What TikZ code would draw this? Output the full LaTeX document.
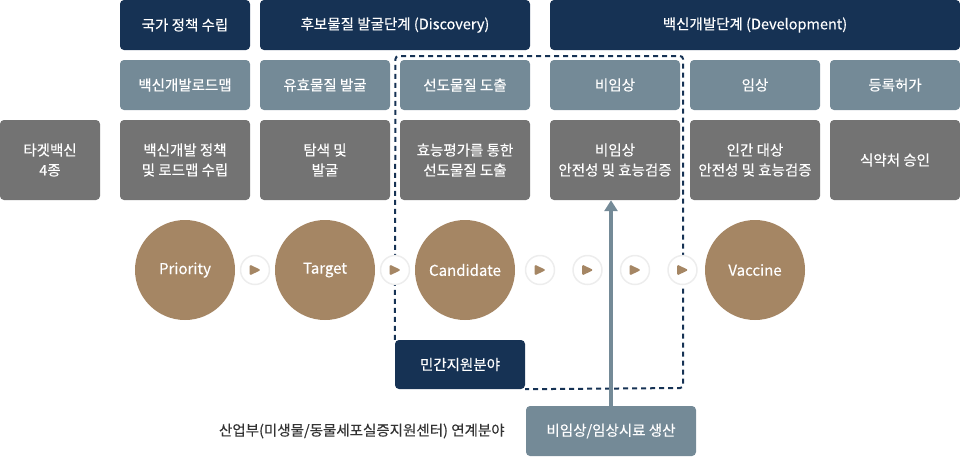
\documentclass[tikz,border=0pt]{standalone}
\usepackage{fontspec}
\setmainfont{Noto Sans CJK KR}[FakeBold=0.3]
\usepackage{tikz}
\usetikzlibrary{positioning,arrows.meta}
\definecolor{navy}{HTML}{163254}
\definecolor{slate}{HTML}{748A97}
\definecolor{taskgray}{HTML}{737373}
\definecolor{phasebrown}{HTML}{A58664}
\definecolor{labelgray}{HTML}{333333}
\tikzstyle{header_box} = [rectangle, rounded corners=4pt, fill=navy, text=white, minimum height=50pt, inner sep=0pt]
\tikzstyle{stage_box} = [rectangle, rounded corners=4pt, fill=slate, text=white, minimum width=130pt, minimum height=50pt, inner sep=0pt]
\tikzstyle{task_box} = [rectangle, rounded corners=4pt, fill=taskgray, text=white, minimum width=130pt, minimum height=80pt, inner sep=0pt, align=center]
\tikzstyle{phase_circle} = [circle, fill=phasebrown, text=white, minimum size=100pt, inner sep=0pt, font=\fontsize{15}{20}\selectfont]
\tikzstyle{play_circle} = [circle, fill=white, draw=black!7, line width=1.5pt, minimum size=29pt, inner sep=0pt,
    path picture={\fill[phasebrown, rounded corners=1.5pt] ([shift={(-5.5pt,-5.5pt)}]path picture bounding box.center) -- ([shift={(6pt,0pt)}]path picture bounding box.center) -- ([shift={(-5.5pt,5.5pt)}]path picture bounding box.center) -- cycle;}]
\tikzstyle{private_frame} = [draw=navy, line width=2pt, dash pattern=on 5pt off 4pt, rounded corners=3pt]
\tikzstyle{arrow_up} = [line width=3.5pt, draw=slate, ->, >={Triangle[width=13pt,length=11pt]}]

\begin{document}
\begin{tikzpicture}[x=1pt, y=-1pt, font=\fontsize{14.5}{20}\selectfont]
    \useasboundingbox (0,0) rectangle (960,456);

    % dashed frame of the private support area
    \node (private) [header_box, minimum width=130pt, minimum height=49pt] at (460,364.5) {민간지원분야};
    \coordinate (frame_nw) at (395.5,56);
    \coordinate (frame_ne) at (683,56);
    \coordinate (frame_se) at (683,388);
    \draw [private_frame] (private.north west) -- (frame_nw) -- (frame_ne) -- (frame_se) -- (private.south east);

    % top headers
    \node (policy) [header_box, minimum width=130pt] at (185,25) {국가 정책 수립};
    \node (discovery) [header_box, minimum width=270pt, right of=policy, node distance=210pt] {후보물질 발굴단계 (Discovery)};
    \node (development) [header_box, minimum width=410pt, right of=discovery, node distance=360pt] {백신개발단계 (Development)};

    % stages
    \node (roadmap) [stage_box, below of=policy, node distance=60pt] {백신개발로드맵};
    \node (useful) [stage_box, right of=roadmap, node distance=140pt] {유효물질 발굴};
    \node (lead) [stage_box, right of=useful, node distance=140pt] {선도물질 도출};
    \node (preclinical) [stage_box, right of=lead, node distance=150pt] {비임상};
    \node (clinical) [stage_box, right of=preclinical, node distance=140pt] {임상};
    \node (approval) [stage_box, right of=clinical, node distance=140pt] {등록허가};

    % tasks
    \node (roadmap_task) [task_box, below of=roadmap, node distance=75pt] {백신개발 정책\\및 로드맵 수립};
    \node (target_vaccine) [task_box, minimum width=100pt, left of=roadmap_task, node distance=135pt] {타겟백신\\4종};
    \node (useful_task) [task_box, below of=useful, node distance=75pt] {탐색 및\\발굴};
    \node (lead_task) [task_box, below of=lead, node distance=75pt] {효능평가를 통한\\선도물질 도출};
    \node (preclinical_task) [task_box, below of=preclinical, node distance=75pt] {비임상\\안전성 및 효능검증};
    \node (clinical_task) [task_box, below of=clinical, node distance=75pt] {인간 대상\\안전성 및 효능검증};
    \node (approval_task) [task_box, below of=approval, node distance=75pt] {식약처 승인};

    % phases
    \node (priority) [phase_circle, below of=roadmap_task, node distance=110pt] {Priority};
    \node (target) [phase_circle, below of=useful_task, node distance=110pt] {Target};
    \node (candidate) [phase_circle, below of=lead_task, node distance=110pt] {Candidate};
    \node (vaccine) [phase_circle, below of=clinical_task, node distance=110pt] {Vaccine};

    \node (play_1) [play_circle, right of=priority, node distance=70pt] {};
    \node (play_2) [play_circle, right of=target, node distance=70pt] {};
    \node (play_3) [play_circle, right of=candidate, node distance=75pt] {};
    \node (play_4) [play_circle, right of=play_3, node distance=47.5pt] {};
    \node (play_5) [play_circle, right of=play_4, node distance=47.5pt] {};
    \node (play_6) [play_circle, right of=play_5, node distance=47.5pt] {};

    % sample production
    \node (supply) [stage_box, minimum width=170pt] at (611,431) {비임상/임상시료 생산};
    \node (industry) [left=21pt of supply, text=labelgray, inner sep=0pt] {산업부(미생물/동물세포실증지원센터) 연계분야};

    \draw [arrow_up] (supply.north) -- (supply.north |- preclinical_task.south);

\end{tikzpicture}
\end{document}
